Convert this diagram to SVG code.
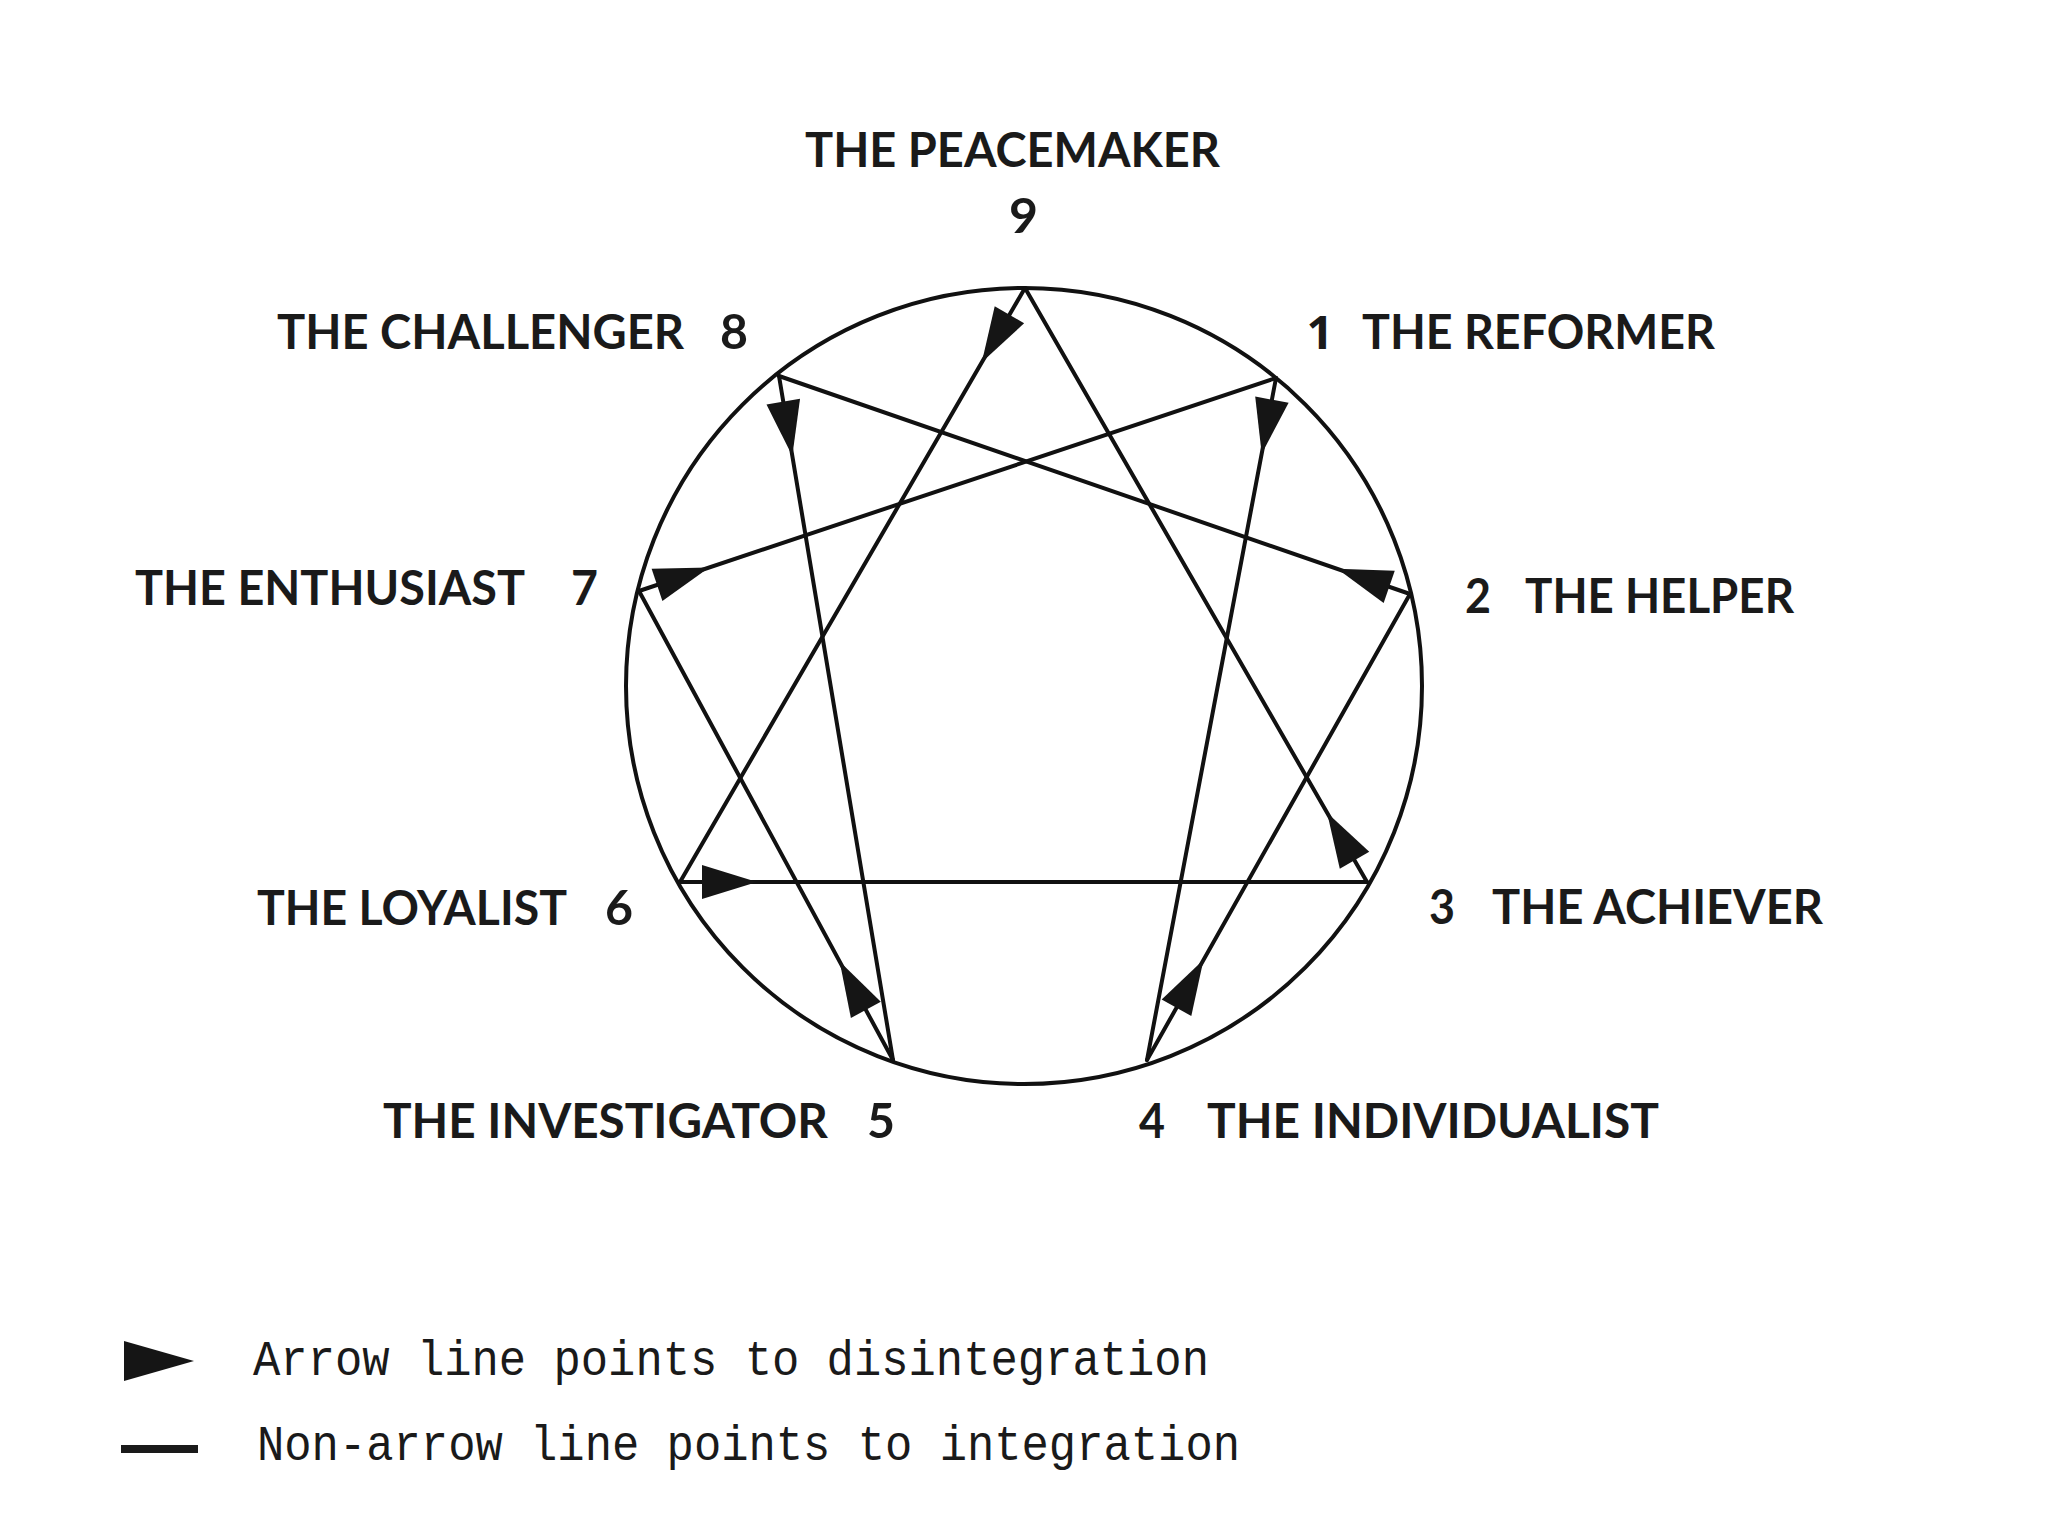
<svg xmlns="http://www.w3.org/2000/svg" xmlns:xlink="http://www.w3.org/1999/xlink" width="2048" height="1536" viewBox="0 0 2048 1536">
<style>
.lbl{font-family:Lato,"Liberation Sans",sans-serif;font-weight:700;font-size:48px;fill:#1a1a1a}
.one{font-family:"Open Sans","Liberation Sans",sans-serif;font-weight:700;font-size:47px;fill:#1a1a1a}
.leg{font-family:"Liberation Mono","DejaVu Sans Mono",monospace;font-size:50px;fill:#1a1a1a}
.ln{stroke:#111;stroke-width:4;fill:none;stroke-linecap:round}
.ah{fill:#151515}
</style>
<defs>
<polygon id="ah" class="ah" points="0,-17 55,0 0,17"/>
</defs>
<rect width="2048" height="1536" fill="#fff"/>
<g id="circle">
<circle cx="1024" cy="686" r="398" class="ln"/>
</g>
<g id="connectors">
<line class="ln" x1="1025" y1="288" x2="680" y2="882"/>
<line class="ln" x1="680" y1="882" x2="1367" y2="882" stroke-width="5"/>
<line class="ln" x1="1367" y1="882" x2="1025" y2="288"/>
<line class="ln" x1="1276" y1="378" x2="1147" y2="1060"/>
<line class="ln" x1="1147" y1="1060" x2="1410" y2="594"/>
<line class="ln" x1="1410" y1="594" x2="779" y2="376"/>
<line class="ln" x1="779" y1="376" x2="893" y2="1060"/>
<line class="ln" x1="893" y1="1060" x2="639" y2="591"/>
<line class="ln" x1="639" y1="591" x2="1276" y2="378"/>
<use xlink:href="#ah" transform="translate(1025,288) rotate(120.15) translate(31,0)"/>
<use xlink:href="#ah" transform="translate(680,882) rotate(0) translate(22,0)"/>
<use xlink:href="#ah" transform="translate(1367,882) rotate(-119.93) translate(25,0)"/>
<use xlink:href="#ah" transform="translate(1276,378) rotate(100.71) translate(22,0)"/>
<use xlink:href="#ah" transform="translate(1147,1060) rotate(-60.56) translate(60,0)"/>
<use xlink:href="#ah" transform="translate(1410,594) rotate(-160.94) translate(22,0)"/>
<use xlink:href="#ah" transform="translate(779,376) rotate(80.54) translate(26,0)"/>
<use xlink:href="#ah" transform="translate(893,1060) rotate(-118.44) translate(57,0)"/>
<use xlink:href="#ah" transform="translate(639,591) rotate(-18.49) translate(19,0)"/>
</g>
<g id="node9">
<text class="lbl" x="805" y="167" textLength="415" lengthAdjust="spacingAndGlyphs">THE PEACEMAKER</text>
<text class="lbl" x="1009" y="233" textLength="29" lengthAdjust="spacingAndGlyphs">9</text>
</g>
<g id="node1">
<text class="one" x="1320" y="349" text-anchor="middle">1</text>
<text class="lbl" x="1362" y="349" textLength="353" lengthAdjust="spacingAndGlyphs">THE REFORMER</text>
</g>
<g id="node2">
<text class="lbl" x="1465" y="613" textLength="26" lengthAdjust="spacingAndGlyphs">2</text>
<text class="lbl" x="1525" y="613" textLength="269" lengthAdjust="spacingAndGlyphs">THE HELPER</text>
</g>
<g id="node3">
<text class="lbl" x="1429" y="924" textLength="26" lengthAdjust="spacingAndGlyphs">3</text>
<text class="lbl" x="1492" y="924" textLength="331" lengthAdjust="spacingAndGlyphs">THE ACHIEVER</text>
</g>
<g id="node4">
<text class="lbl" x="1139" y="1138" textLength="26" lengthAdjust="spacingAndGlyphs">4</text>
<text class="lbl" x="1207" y="1138" textLength="452" lengthAdjust="spacingAndGlyphs">THE INDIVIDUALIST</text>
</g>
<g id="node5">
<text class="lbl" x="383" y="1138" textLength="445" lengthAdjust="spacingAndGlyphs">THE INVESTIGATOR</text>
<text class="lbl" x="867" y="1138" textLength="28" lengthAdjust="spacingAndGlyphs">5</text>
</g>
<g id="node6">
<text class="lbl" x="257" y="925" textLength="310" lengthAdjust="spacingAndGlyphs">THE LOYALIST</text>
<text class="lbl" x="605" y="925" textLength="28" lengthAdjust="spacingAndGlyphs">6</text>
</g>
<g id="node7">
<text class="lbl" x="135" y="605" textLength="390" lengthAdjust="spacingAndGlyphs">THE ENTHUSIAST</text>
<text class="lbl" x="571" y="605" textLength="27" lengthAdjust="spacingAndGlyphs">7</text>
</g>
<g id="node8">
<text class="lbl" x="277" y="349" textLength="407" lengthAdjust="spacingAndGlyphs">THE CHALLENGER</text>
<text class="lbl" x="720" y="349" textLength="28" lengthAdjust="spacingAndGlyphs">8</text>
</g>
<g id="legend">
<polygon class="ah" points="124,1341 194,1361 124,1381"/>
<rect x="121" y="1445" width="77" height="8" fill="#1a1a1a"/>
<text class="leg" x="253" y="1375" textLength="956" lengthAdjust="spacingAndGlyphs">Arrow line points to disintegration</text>
<text class="leg" x="257" y="1460" textLength="983" lengthAdjust="spacingAndGlyphs">Non-arrow line points to integration</text>
</g>
</svg>
